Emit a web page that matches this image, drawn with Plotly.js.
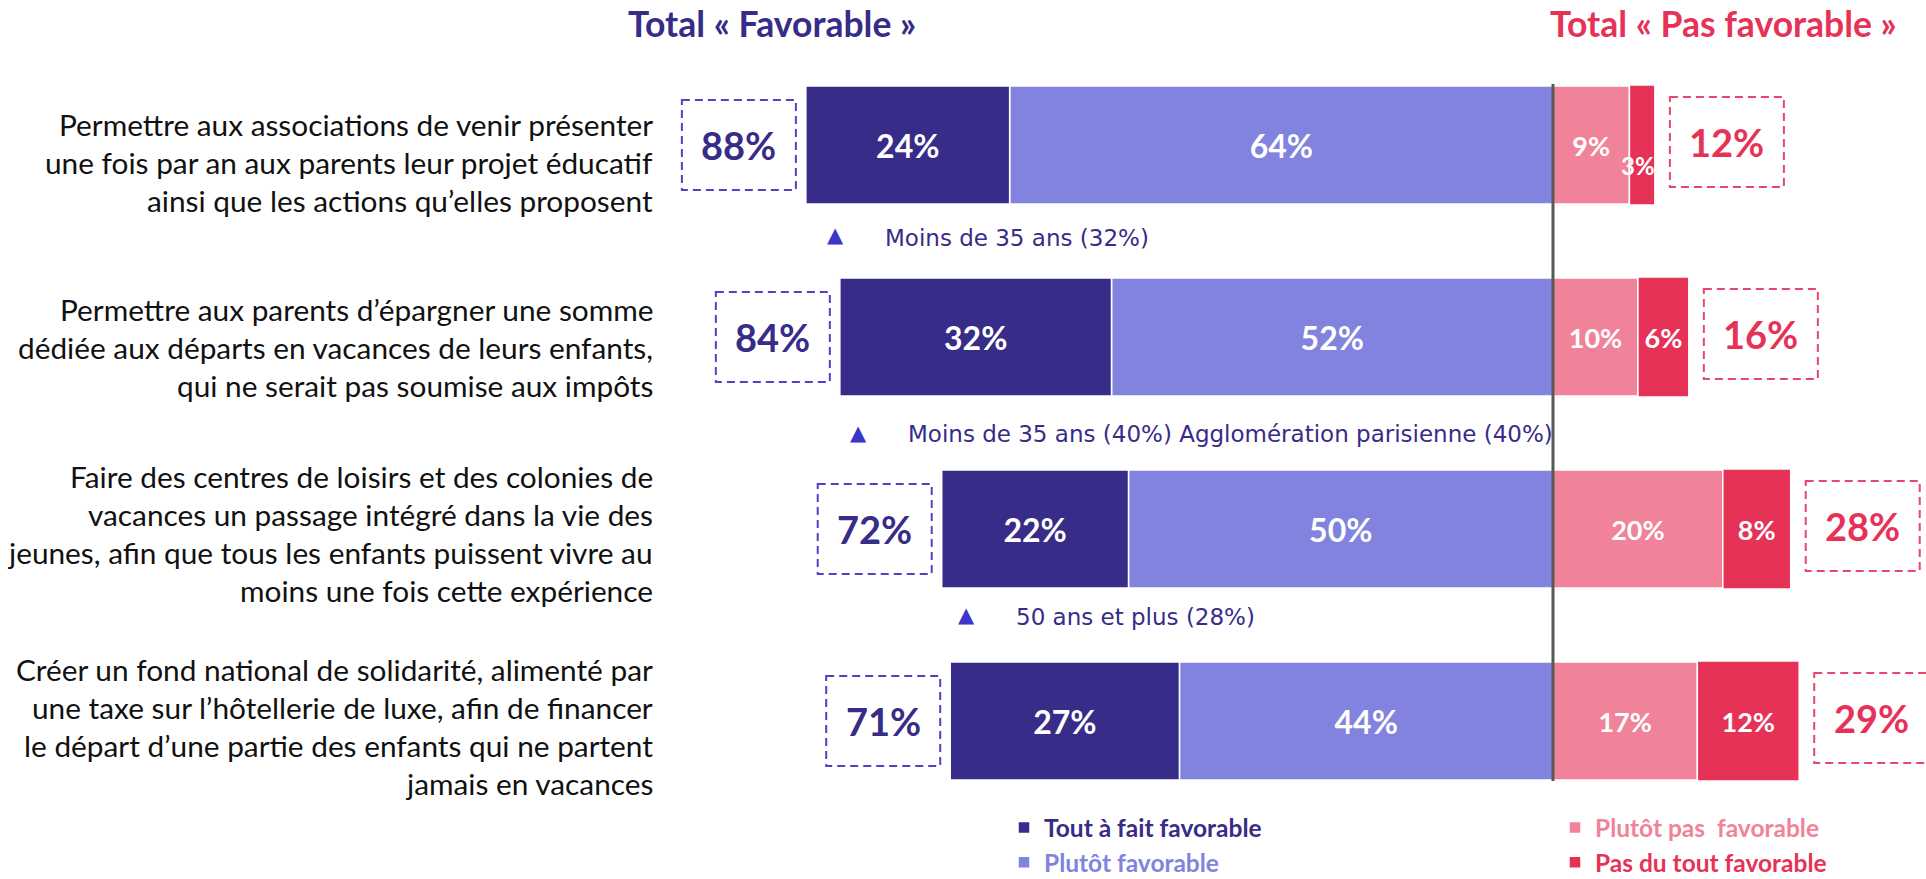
<!DOCTYPE html>
<html><head><meta charset="utf-8">
<script src="https://cdn.plot.ly/plotly-3.0.1.min.js"></script>
<style>html,body{margin:0;padding:0;background:#fff}#chart{width:1926px;height:879px}</style>
</head><body><div id="chart"></div>
<script>
// ---------- DATA ----------
const categories = [
  "Permettre aux associations de venir présenter<br>une fois par an aux parents leur projet éducatif<br>ainsi que les actions qu’elles proposent",
  "Permettre aux parents d’épargner une somme<br>dédiée aux départs en vacances de leurs enfants,<br>qui ne serait pas soumise aux impôts",
  "Faire des centres de loisirs et des colonies de<br>vacances un passage intégré dans la vie des<br>jeunes, afin que tous les enfants puissent vivre au<br>moins une fois cette expérience",
  "Créer un fond national de solidarité, alimenté par<br>une taxe sur l’hôtellerie de luxe, afin de financer<br>le départ d’une partie des enfants qui ne partent<br>jamais en vacances"
];
const toutAFaitFavorable = [24, 32, 22, 27];
const plutotFavorable    = [64, 52, 50, 44];
const plutotPasFavorable = [9, 10, 20, 17];
const pasDuToutFavorable = [3, 6, 8, 12];
const totalFavorable     = [88, 84, 72, 71];
const totalPasFavorable  = [12, 16, 28, 29];
const significantGroups  = [
  "Moins de 35 ans (32%)",
  "Moins de 35 ans (40%) Agglomération parisienne (40%)",
  "50 ans et plus (28%)",
  ""
];
const seriesNames = ["Tout à fait favorable", "Plutôt favorable", "Plutôt pas  favorable", "Pas du tout favorable"];
const headerLeft = "Total « Favorable »";
const headerRight = "Total « Pas favorable »";

// ---------- STYLE / LAYOUT CONSTANTS ----------
const W = 1926, H = 879;
const CENTER_PX = 1553, PX_PER_PCT = 8.49;
const ROW0_PX = 145, ROW_STEP_PX = 192;
const DARK = '#372C87', LIGHT = '#8183DE', PINK = '#F08399', RED = '#E63257';
const LBOX = '#4B44C4', RBOX = '#E8466A';
const FONT = 'Lato, "Open Sans", sans-serif';
const SUBFONT = '"DejaVu Sans", Verdana, sans-serif';
const labelShiftPx = [17, 10, 4.5, 5.5];
const triShiftPx = [90, 96, 86];
const subTextShiftPx = [93, 97, 88];
const triInsetPx = [30, 19, 25];
const u = px => px / PX_PER_PCT;          // px -> x data units
const v = px => px / ROW_STEP_PX;         // px -> y category units

const pct = a => a.map(x => x + '%');
const neg = a => a.map(x => -x);

function barTrace(name, xs, labels, color, size, legend, rank, width, hidePositions) {
  return {
    type: 'bar', orientation: 'h', y: categories.map((c, i) => i), x: xs,
    name: name, text: labels, texttemplate: '%{text}',
    textposition: labels.map((l, i) => hidePositions && hidePositions[i] ? 'none' : 'inside'),
    insidetextanchor: 'middle', textangle: 0, constraintext: 'none', cliponaxis: false,
    textfont: {family: FONT, size: size, color: '#ffffff', weight: 'bold'},
    marker: {color: color, line: {color: '#ffffff', width: 1.5}},
    width: width, legend: legend, legendrank: rank, hoverinfo: 'skip'
  };
}
const tiny = pasDuToutFavorable.map(x => x < 5);
const traces = [
  barTrace(`<b><span style="color:${LIGHT}">${seriesNames[1]}</span></b>`, neg(plutotFavorable), pct(plutotFavorable), LIGHT, 32, 'legend', 2, 0.615),
  barTrace(`<b><span style="color:${DARK}">${seriesNames[0]}</span></b>`, neg(toutAFaitFavorable), pct(toutAFaitFavorable), DARK, 32, 'legend', 1, 0.615),
  barTrace(`<b><span style="color:${PINK}">${seriesNames[2]}</span></b>`, plutotPasFavorable, pct(plutotPasFavorable), PINK, 27, 'legend2', 1, 0.615),
  barTrace(`<b><span style="color:${RED}">${seriesNames[3]}</span></b>`, pasDuToutFavorable, pct(pasDuToutFavorable), RED, 27, 'legend2', 2, 0.625, tiny)
];

const shapes = [];
const annotations = [];

// centre line
shapes.push({type: 'line', xref: 'x', yref: 'y', x0: 0, x1: 0,
  y0: -v(ROW0_PX - 84), y1: categories.length - 1 + v(781 - ROW0_PX - 3 * ROW_STEP_PX),
  line: {color: '#595959', width: 3}, layer: 'above'});

const gapL = u(10), gapR = u(15), boxW = u(114), boxH = v(90);
categories.forEach((cat, i) => {
  // left dashed box with total favourable
  const lx1 = -totalFavorable[i] - gapL, lx0 = lx1 - boxW;
  shapes.push({type: 'rect', xref: 'x', yref: 'y', x0: lx0, x1: lx1, y0: i - boxH / 2, y1: i + boxH / 2,
    line: {color: LBOX, width: 2, dash: '8px,5px'}, fillcolor: 'rgba(0,0,0,0)', layer: 'above'});
  annotations.push({xref: 'x', yref: 'y', x: (lx0 + lx1) / 2, y: i, text: '<b>' + totalFavorable[i] + '%</b>',
    showarrow: false, font: {family: FONT, size: 38, color: DARK}, xanchor: 'center', yanchor: 'middle'});
  // right dashed box
  const rx0 = totalPasFavorable[i] + gapR, rx1 = rx0 + boxW;
  shapes.push({type: 'rect', xref: 'x', yref: 'y', x0: rx0, x1: rx1, y0: i - boxH / 2 - v(3), y1: i + boxH / 2 - v(3),
    line: {color: RBOX, width: 2, dash: '8px,5px'}, fillcolor: 'rgba(0,0,0,0)', layer: 'above'});
  annotations.push({xref: 'x', yref: 'y', x: (rx0 + rx1) / 2, y: i - v(3), text: '<b>' + totalPasFavorable[i] + '%</b>',
    showarrow: false, font: {family: FONT, size: 38, color: RED}, xanchor: 'center', yanchor: 'middle'});

  // question label, line by line
  const lines = cat.split('<br>');
  const step = v(38);
  lines.forEach((ln, k) => {
    annotations.push({xref: 'paper', yref: 'y', x: 655 / W, y: i + v(labelShiftPx[i]) + (k - (lines.length - 1) / 2) * step,
      text: ln, showarrow: false, xanchor: 'right', yanchor: 'middle', align: 'right',
      font: {family: FONT, size: 29.8, color: '#111111'}});
  });

  // significant subgroup
  if (significantGroups[i]) {
    const tx = -totalFavorable[i] + u(triInsetPx[i]);
    annotations.push({xref: 'x', yref: 'y', x: tx, y: i + v(triShiftPx[i]), text: '▲', showarrow: false,
      xanchor: 'center', yanchor: 'middle', font: {family: SUBFONT, size: 21, color: '#3B36C9'}});
    annotations.push({xref: 'x', yref: 'y', x: tx + u(47), y: i + v(subTextShiftPx[i]), text: significantGroups[i], showarrow: false,
      xanchor: 'left', yanchor: 'middle', font: {family: SUBFONT, size: 23, color: DARK}});
  }

  // tiny segment label placed outside
  if (tiny[i]) {
    annotations.push({xref: 'x', yref: 'y', x: plutotPasFavorable[i] + pasDuToutFavorable[i] / 2, y: i,
      xshift: -4, yshift: -20, text: '<b>' + pasDuToutFavorable[i] + '%</b>', showarrow: false,
      xanchor: 'center', yanchor: 'middle', font: {family: FONT, size: 24, color: '#ffffff'}});
  }
});

// headers
annotations.push({xref: 'paper', yref: 'paper', x: 771.5 / W, y: 1 - 24 / H, text: '<b>' + headerLeft + '</b>',
  showarrow: false, xanchor: 'center', yanchor: 'middle', font: {family: FONT, size: 35.5, color: DARK}});
annotations.push({xref: 'paper', yref: 'paper', x: 1723 / W, y: 1 - 24 / H, text: '<b>' + headerRight + '</b>',
  showarrow: false, xanchor: 'center', yanchor: 'middle', font: {family: FONT, size: 35.5, color: RED}});

const layout = {
  width: W, height: H, margin: {l: 0, r: 0, t: 0, b: 0, pad: 0, autoexpand: false},
  paper_bgcolor: '#ffffff', plot_bgcolor: '#ffffff',
  barmode: 'relative', bargap: 0,
  xaxis: {range: [-u(CENTER_PX), u(W - CENTER_PX)], visible: false, fixedrange: true},
  yaxis: {range: [categories.length - 1 + v(H - ROW0_PX - 3 * ROW_STEP_PX), -v(ROW0_PX)], visible: false, fixedrange: true},
  showlegend: true,
  legend: {x: 1004 / W, y: 1 - 805 / H, xanchor: 'left', yanchor: 'top', orientation: 'v', traceorder: 'normal',
    font: {family: FONT, size: 24.5}, bgcolor: 'rgba(0,0,0,0)', borderwidth: 0},
  legend2: {x: 1555 / W, y: 1 - 805 / H, xanchor: 'left', yanchor: 'top', orientation: 'v', traceorder: 'normal',
    font: {family: FONT, size: 24.5}, bgcolor: 'rgba(0,0,0,0)', borderwidth: 0},
  shapes: shapes, annotations: annotations, hovermode: false
};

Plotly.newPlot('chart', traces, layout, {staticPlot: true, displayModeBar: false});
</script></body></html>
